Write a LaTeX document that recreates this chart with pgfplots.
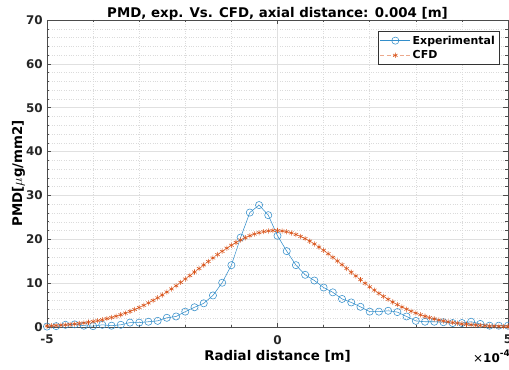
\documentclass[border=0pt]{standalone}
\usepackage{fontspec}
\setmainfont{DejaVu Sans}
\usepackage{pgfplots}
\usepackage{pgfplotstable}
\pgfplotsset{compat=1.18}
\definecolor{mblue}{RGB}{0,114,189}
\definecolor{morange}{RGB}{217,83,25}

\pgfplotstableread{
x y
-5.0 0.1
-4.8 0.2
-4.6 0.5
-4.4 0.6
-4.2 0.3
-4.0 0.2
-3.8 0.5
-3.6 0.3
-3.4 0.5
-3.2 1.0
-3.0 1.0
-2.8 1.2
-2.6 1.4
-2.4 2.1
-2.2 2.4
-2.0 3.5
-1.8 4.5
-1.6 5.4
-1.4 7.2
-1.2 10.1
-1.0 14.1
-0.8 20.4
-0.6 26.1
-0.4 27.8
-0.2 25.5
0.0 20.8
0.2 17.3
0.4 14.1
0.6 11.9
0.8 10.6
1.0 9.0
1.2 7.9
1.4 6.4
1.6 5.6
1.8 4.6
2.0 3.5
2.2 3.5
2.4 3.7
2.6 3.4
2.8 2.4
3.0 1.4
3.2 1.2
3.4 1.2
3.6 1.1
3.8 0.9
4.0 0.9
4.2 1.2
4.4 0.7
4.6 0.3
4.8 0.3
5.0 0.3
}\expdata

\pgfplotstableread{
x y
-5.0 0.24
-4.9 0.29
-4.8 0.35
-4.7 0.42
-4.6 0.49
-4.5 0.58
-4.4 0.68
-4.3 0.80
-4.2 0.93
-4.1 1.08
-4.0 1.25
-3.9 1.45
-3.8 1.66
-3.7 1.91
-3.6 2.17
-3.5 2.47
-3.4 2.80
-3.3 3.16
-3.2 3.56
-3.1 3.99
-3.0 4.45
-2.9 4.95
-2.8 5.49
-2.7 6.06
-2.6 6.66
-2.5 7.31
-2.4 7.98
-2.3 8.68
-2.2 9.41
-2.1 10.17
-2.0 10.94
-1.9 11.73
-1.8 12.54
-1.7 13.34
-1.6 14.15
-1.5 14.95
-1.4 15.74
-1.3 16.51
-1.2 17.25
-1.1 17.97
-1.0 18.64
-0.9 19.27
-0.8 19.84
-0.7 20.36
-0.6 20.81
-0.5 21.20
-0.4 21.51
-0.3 21.75
-0.2 21.91
-0.1 21.99
0.0 21.99
0.1 21.90
0.2 21.72
0.3 21.45
0.4 21.09
0.5 20.66
0.6 20.15
0.7 19.57
0.8 18.93
0.9 18.23
1.0 17.49
1.1 16.71
1.2 15.89
1.3 15.05
1.4 14.20
1.5 13.34
1.6 12.48
1.7 11.63
1.8 10.79
1.9 9.97
2.0 9.17
2.1 8.41
2.2 7.67
2.3 6.97
2.4 6.31
2.5 5.68
2.6 5.10
2.7 4.56
2.8 4.06
2.9 3.59
3.0 3.17
3.1 2.79
3.2 2.44
3.3 2.13
3.4 1.85
3.5 1.60
3.6 1.38
3.7 1.18
3.8 1.01
3.9 0.86
4.0 0.72
4.1 0.61
4.2 0.51
4.3 0.43
4.4 0.36
4.5 0.30
4.6 0.24
4.7 0.20
4.8 0.17
4.9 0.13
5.0 0.11
}\cfddata

\begin{document}
\begin{tikzpicture}
\path[use as bounding box] (-47bp,-43bp) rectangle (462bp,327bp);
\begin{axis}[
  scale only axis, width=461bp, height=307bp,
  xmin=-5, xmax=5, ymin=0, ymax=70,
  xtick={-5,0,5}, minor xtick={-4,-3,-2,-1,1,2,3,4},
  ytick={0,10,...,70}, minor ytick={2,4,6,8,12,14,16,18,22,24,26,28,32,34,36,38,42,44,46,48,52,54,56,58,62,64,66,68},
  grid=both,
  major grid style={draw=black!12, line width=0.5pt},
  minor grid style={draw=black!14, line width=0.4pt, dash pattern=on 0.8bp off 1.6bp},
  axis line style={draw=black!70, line width=0.5pt},
  every tick/.style={draw=black!70, line width=0.5pt},
  tick align=inside,
  major tick length=4.5bp, minor tick length=2.5bp,
  /pgf/number format/assume math mode=true,
  tick label style={font=\bfseries\fontsize{12}{14}\selectfont, text=black!85},
  yticklabel style={inner sep=0pt, anchor=east, xshift=-4bp},
  xticklabel style={inner sep=0pt, anchor=north, yshift=-8bp},
  title={PMD, exp. Vs. CFD, axial distance: 0.004 [m]},
  title style={font=\bfseries\fontsize{13.4}{15}\selectfont, at={(axis description cs:0.5,1)}, anchor=base, yshift=-3.5bp, inner sep=0pt},
  xlabel={Radial distance [m]},
  xlabel style={font=\bfseries\fontsize{13.4}{15}\selectfont, at={(axis description cs:0.5,0)}, anchor=base, yshift=-33bp, inner sep=0pt},
  ylabel={PMD[$\mu$g/mm2]},
  ylabel style={font=\bfseries\fontsize{13.4}{15}\selectfont, at={(axis description cs:-0.0542,0.5)}, anchor=base, inner sep=0pt},
  legend style={at={(axis description cs:0.9805,0.9642)}, anchor=north east, font=\bfseries\fontsize{11}{13}\selectfont, draw=black!80, line width=0.5pt, fill=white, inner xsep=2bp, inner ysep=2.5bp, row sep=1bp},
  legend cell align=left,
  legend image code/.code={\draw[mark repeat=2,mark phase=2] plot coordinates {(0bp,0bp)(15bp,0bp)(30bp,0bp)};},
]
\addplot[color=mblue!80, line width=0.55pt, mark=o, mark size=3.6bp, mark options={solid, fill=none}] table[x=x,y=y]{\expdata};
\addlegendentry{Experimental}
\addplot[color=morange!50, dash pattern=on 4bp off 2.5bp, line width=0.8pt, mark=asterisk, mark size=2.6bp, mark options={solid, draw=morange, line width=0.55pt}] table[x=x,y=y]{\cfddata};
\addlegendentry{CFD}
\end{axis}
\node[anchor=base east, inner sep=0pt, font=\fontsize{12}{14}\selectfont] at (463bp,-35bp) {×\textbf{10}\raisebox{6bp}{\bfseries\fontsize{9}{10}\selectfont -4}};
\end{tikzpicture}
\end{document}
